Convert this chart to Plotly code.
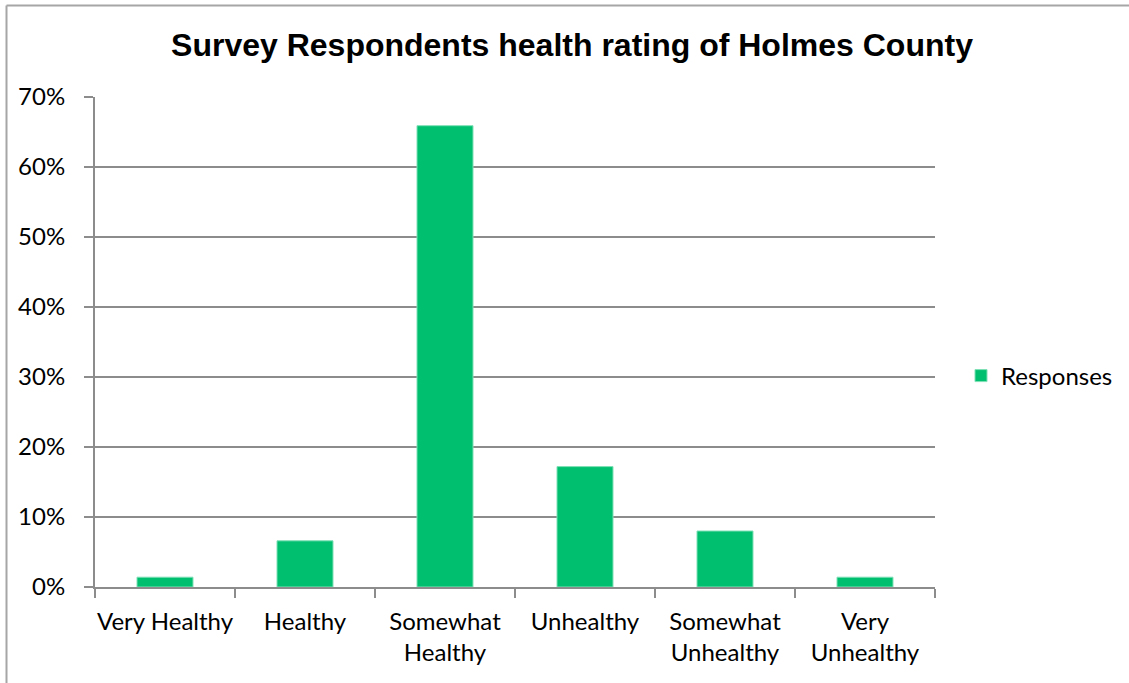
import plotly.graph_objects as go

categories = ["Very Healthy", "Healthy", "Somewhat<br>Healthy", "Unhealthy", "Somewhat<br>Unhealthy", "Very<br>Unhealthy"]
responses = [0.014, 0.066, 0.659, 0.172, 0.080, 0.014]
series_name = "Responses"

bar_color = "#00BF6F"
grid_color = "#8C8C8C"
font_family = "Lato, 'Open Sans', sans-serif"

fig = go.Figure()
fig.add_trace(go.Bar(
    x=categories, y=responses, name=series_name,
    marker=dict(color=bar_color, line=dict(color="#7fe0b7", width=1)),
    width=0.4,
))

W, H = 1129, 683
L, R, T, B = 95, 194, 97, 96
pw, ph = W - L - R, H - T - B

def px(x):
    return (x - L) / pw

def py(y):
    return (H - B - y) / ph

fig.update_layout(
    width=W, height=H,
    margin=dict(l=L, r=R, t=T, b=B, autoexpand=False),
    paper_bgcolor="white", plot_bgcolor="white",
    title=dict(text="<b>Survey Respondents health rating of Holmes County</b>",
               x=572 / W, xanchor="center", y=1 - 45 / H, yanchor="middle",
               font=dict(family="'Liberation Sans', Arial, sans-serif", size=32, color="black")),
    showlegend=True,
    legend=dict(x=px(961), xanchor="left", y=py(376), yanchor="middle",
                font=dict(family=font_family, size=24, color="black"),
                itemwidth=30, bgcolor="rgba(0,0,0,0)"),
    bargap=0.6,
    xaxis=dict(
        type="category", showline=True, linecolor=grid_color, linewidth=2,
        ticks="outside", tickson="boundaries", ticklen=9, tickcolor=grid_color, tickwidth=2,
        tickfont=dict(family=font_family, size=24, color="black"),
        tickangle=0, automargin=False, ticklabelstandoff=12,
        showgrid=False,
    ),
    yaxis=dict(
        range=[0, 0.7], dtick=0.1, tickformat=".0%",
        showline=True, linecolor=grid_color, linewidth=2,
        ticks="outside", ticklen=9, tickcolor=grid_color, tickwidth=2,
        showgrid=True, gridcolor=grid_color, gridwidth=1.5,
        tickfont=dict(family=font_family, size=24, color="black"),
        ticklabelstandoff=14, zeroline=False, automargin=False,
    ),
    shapes=[
        dict(type="line", xref="paper", yref="paper",
             x0=px(6.5), x1=px(6.5), y0=py(700), y1=py(5.5),
             line=dict(color="#A6A6A6", width=2)),
        dict(type="line", xref="paper", yref="paper",
             x0=px(6.5), x1=px(1140), y0=py(5.5), y1=py(5.5),
             line=dict(color="#A6A6A6", width=2)),
    ],
)

fig.write_html("out.html", config={"displayModeBar": False},
               post_script="document.body.style.margin='0';document.body.style.overflow='hidden';")
